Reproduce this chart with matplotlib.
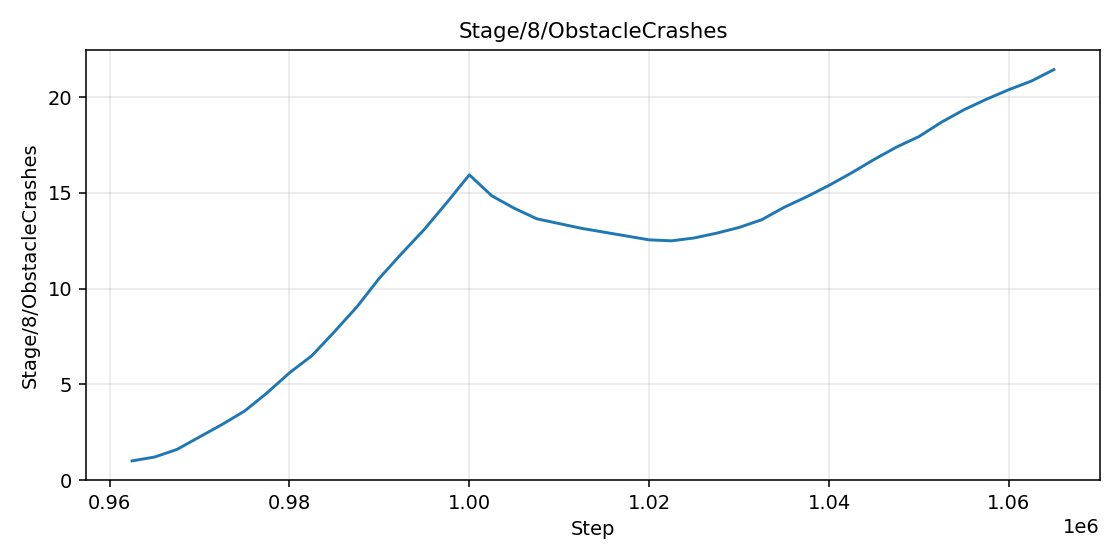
import matplotlib
matplotlib.use("Agg")
import matplotlib.pyplot as plt
import matplotlib.ticker as ticker
import numpy as np

steps = np.arange(962500, 1065001, 2500)
crashes = [1.0, 1.2, 1.6, 2.25, 2.9, 3.6, 4.55, 5.6, 6.5, 7.75, 9.05, 10.55,
           11.85, 13.1, 14.5, 15.95, 14.85, 14.2, 13.65, 13.4, 13.15, 12.95,
           12.75, 12.55, 12.5, 12.65, 12.9, 13.2, 13.6, 14.25, 14.8, 15.4,
           16.05, 16.75, 17.4, 17.95, 18.7, 19.35, 19.9, 20.4, 20.85, 21.45]

fig, ax = plt.subplots(figsize=(8, 4), dpi=140)
ax.plot(steps, crashes, color="#1f77b4", linewidth=1.5)
ax.set_title("Stage/8/ObstacleCrashes", fontsize=11)
ax.set_xlabel("Step")
ax.set_ylabel("Stage/8/ObstacleCrashes")
ax.set_ylim(0, None)
ax.yaxis.set_major_locator(ticker.MultipleLocator(5))
ax.grid(True, alpha=0.3)
fig.subplots_adjust(left=86 / 1120, right=1100 / 1120, top=1 - 50 / 560, bottom=1 - 480 / 560)
fig.savefig("out.png", dpi=140)
